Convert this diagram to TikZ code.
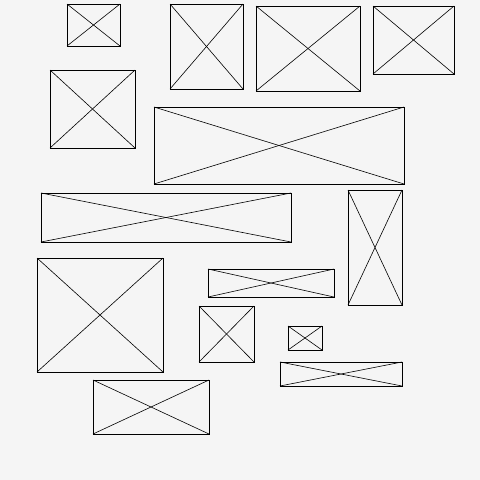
\documentclass[tikz,border=0pt]{standalone}
\usetikzlibrary{fit}
\definecolor{bg}{HTML}{F5F5F5}
\tikzset{
  phbox/.style={draw=black, line width=0.75pt, inner sep=0pt, outer sep=0pt},
  phcross/.style={draw=black, line width=0.6pt}
}
\newcommand{\phitem}[5]{%
  \node[phbox, fit={(#2,#3)(#4,#5)}] (#1) {};
  \draw[phcross] (#1.north west) -- (#1.south east);
  \draw[phcross] (#1.north east) -- (#1.south west);
}
\begin{document}
\begin{tikzpicture}[x=1pt,y=-1pt]
\fill[bg] (0,0) rectangle (480,480);
\useasboundingbox (0,0) rectangle (480,480);
\phitem{b1}{67}{4}{120}{46}
\phitem{b2}{170}{4}{243}{89}
\phitem{b3}{256}{6}{360}{91}
\phitem{b4}{373}{6}{454}{74}
\phitem{b5}{50}{70}{135}{148}
\phitem{b6}{154}{107}{404}{184}
\phitem{b7}{41}{193}{291}{242}
\phitem{b8}{348}{190}{402}{305}
\phitem{b9}{37}{258}{163}{372}
\phitem{b10}{208}{269}{334}{297}
\phitem{b11}{199}{306}{254}{362}
\phitem{b12}{288}{326}{322}{350}
\phitem{b13}{280}{362}{402}{386}
\phitem{b14}{93}{380}{209}{434}
\end{tikzpicture}
\end{document}
